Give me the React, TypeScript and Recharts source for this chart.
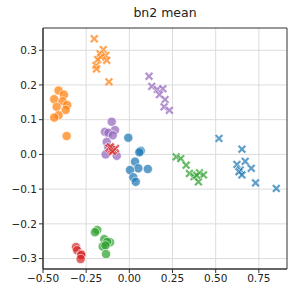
import {
  CartesianGrid,
  ReferenceArea,
  Scatter,
  ScatterChart,
  XAxis,
  YAxis,
} from 'recharts';

type Pt = [number, number];

const xTicks = [-0.5, -0.25, 0, 0.25, 0.5, 0.75];
const yTicks = [-0.3, -0.2, -0.1, 0, 0.1, 0.2, 0.3];

// circles
const blueDots: Pt[] = [
  [-0.006, 0.048], [0.066, 0.010], [0.058, 0.006], [0.033, -0.021], [0.052, -0.040],
  [0.004, -0.045], [0.107, -0.042], [0.023, -0.066], [0.037, -0.079],
];
const orangeDots: Pt[] = [
  [-0.41, 0.184], [-0.379, 0.172], [-0.435, 0.159], [-0.387, 0.153], [-0.36, 0.142],
  [-0.421, 0.137], [-0.369, 0.128], [-0.41, 0.113], [-0.435, 0.106], [-0.363, 0.053],
];
const greenDots: Pt[] = [
  [-0.186, -0.218], [-0.199, -0.224], [-0.145, -0.244], [-0.112, -0.253], [-0.128, -0.252],
  [-0.154, -0.265], [-0.138, -0.262], [-0.135, -0.287],
];
const redDots: Pt[] = [
  [-0.309, -0.267], [-0.302, -0.276], [-0.280, -0.287], [-0.278, -0.290], [-0.282, -0.301],
];
const purpleDots: Pt[] = [
  [-0.102, 0.094], [-0.083, 0.070], [-0.141, 0.065], [-0.121, 0.062], [-0.096, 0.055],
  [-0.131, 0.036], [-0.122, 0.020], [-0.137, 0.000], [-0.073, -0.004],
];

// crosses
const blueCrosses: Pt[] = [
  [0.519, 0.046], [0.652, 0.015], [0.671, -0.020], [0.623, -0.029], [0.706, -0.040],
  [0.642, -0.045], [0.635, -0.050], [0.652, -0.059], [0.731, -0.082], [0.851, -0.098],
];
const orangeCrosses: Pt[] = [
  [-0.203, 0.333], [-0.151, 0.302], [-0.170, 0.290], [-0.137, 0.285], [-0.164, 0.280],
  [-0.183, 0.273], [-0.131, 0.271], [-0.193, 0.256], [-0.190, 0.246], [-0.118, 0.209],
];
const greenCrosses: Pt[] = [
  [0.271, -0.007], [0.298, -0.012], [0.329, -0.031], [0.348, -0.055], [0.375, -0.064],
  [0.406, -0.053], [0.429, -0.059], [0.400, -0.079], [0.390, -0.060],
];
const redCrosses: Pt[] = [
  [-0.118, 0.018], [-0.105, 0.014], [-0.093, 0.012], [-0.080, 0.017], [-0.110, 0.022],
  [-0.098, 0.008],
];
const purpleCrosses: Pt[] = [
  [0.114, 0.225], [0.130, 0.196], [0.162, 0.187], [0.194, 0.189], [0.174, 0.172],
  [0.207, 0.158], [0.201, 0.137], [0.232, 0.127],
];

const toRows = (pts: Pt[]) => pts.map(([x, y]) => ({ x, y }));

const BLUE = '#1f77b4';
const ORANGE = '#ff7f0e';
const GREEN = '#2ca02c';
const RED = '#d62728';
const PURPLE = '#9467bd';

function dot(color: string) {
  return (p: any) => (
    <circle cx={p.cx} cy={p.cy} r={4.6} fill={color} fillOpacity={0.72} stroke="#fff" strokeWidth={0.6} />
  );
}

// filled "X" like matplotlib's marker='X'
function cross(color: string) {
  return (p: any) => {
    const s = 4.4;
    const w = 1.8;
    const { cx, cy } = p;
    const d = `M${cx - s},${cy - s + w} L${cx - s + w},${cy - s} L${cx},${cy - w} L${cx + s - w},${cy - s} L${cx + s},${cy - s + w} L${cx + w},${cy} L${cx + s},${cy + s - w} L${cx + s - w},${cy + s} L${cx},${cy + w} L${cx - s + w},${cy + s} L${cx - s},${cy + s - w} L${cx - w},${cy} Z`;
    return <path d={d} fill={color} fillOpacity={0.72} stroke="#fff" strokeWidth={0.5} />;
  };
}

const tickStyle = { fontSize: 10.5, fill: '#222', fontFamily: 'DejaVu Sans' };
const fmtX = (v: number) => v.toFixed(2).replace('-', '\u2212');
const fmtY = (v: number) => v.toFixed(1).replace('-', '\u2212');

const series: [Pt[], string, 'dot' | 'cross'][] = [
  [blueDots, BLUE, 'dot'],
  [orangeDots, ORANGE, 'dot'],
  [greenDots, GREEN, 'dot'],
  [redDots, RED, 'dot'],
  [purpleDots, PURPLE, 'dot'],
  [blueCrosses, BLUE, 'cross'],
  [orangeCrosses, ORANGE, 'cross'],
  [greenCrosses, GREEN, 'cross'],
  [redCrosses, RED, 'cross'],
  [purpleCrosses, PURPLE, 'cross'],
];

export default function App() {
  return (
    <div style={{ position: 'absolute', left: 0, top: 0, width: 299, height: 299, background: '#fff' }}>
      <div
        style={{
          position: 'absolute',
          left: 43,
          width: 244,
          top: 5,
          textAlign: 'center',
          fontFamily: 'DejaVu Sans',
          fontSize: 12.5,
          color: '#222',
        }}
      >
        bn2 mean
      </div>
      <ScatterChart width={299} height={299} margin={{ top: 28, right: 12, bottom: 0, left: 0 }}>
        <CartesianGrid stroke="#dcdcdc" strokeWidth={1} horizontalValues={yTicks} verticalValues={xTicks} />
        <XAxis
          type="number"
          dataKey="x"
          domain={[-0.5, 0.913]}
          ticks={xTicks}
          tickFormatter={fmtX}
          tick={tickStyle}
          tickSize={4}
          height={30}
          allowDataOverflow
          stroke="#333"
        />
        <YAxis
          type="number"
          dataKey="y"
          domain={[-0.33, 0.364]}
          ticks={yTicks}
          tickFormatter={fmtY}
          tick={tickStyle}
          tickSize={4}
          width={43}
          allowDataOverflow
          stroke="#333"
        />
        <ReferenceArea x1={-0.5} x2={0.913} y1={-0.33} y2={0.364} fill="none" stroke="#333" strokeWidth={1} />
        {series.map(([pts, color, kind], i) => (
          <Scatter
            key={i}
            data={toRows(pts)}
            shape={kind === 'dot' ? dot(color) : cross(color)}
            isAnimationActive={false}
          />
        ))}
      </ScatterChart>
    </div>
  );
}
